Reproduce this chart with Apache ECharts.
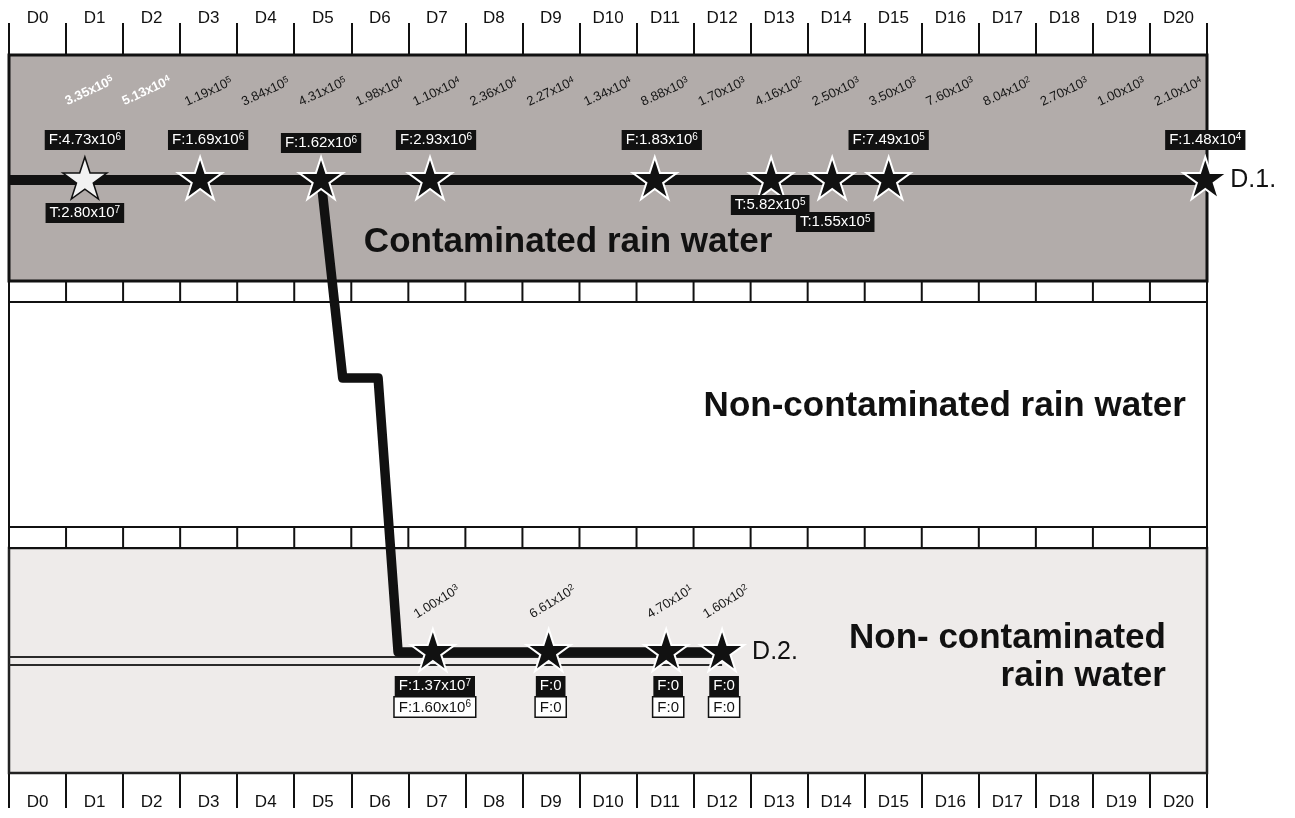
<!DOCTYPE html>
<html><head><meta charset="utf-8">
<script src="https://cdn.jsdelivr.net/npm/echarts@6/dist/echarts.min.js"></script>
<style>html,body{margin:0;padding:0;background:#fff}#c{width:1295px;height:818px}</style>
</head><body><div id="c"></div>
<script>
// ---------------- data ----------------
const dayLabels = ['D0','D1','D2','D3','D4','D5','D6','D7','D8','D9','D10','D11','D12','D13','D14','D15','D16','D17','D18','D19','D20'];
// counts printed diagonally in the contaminated band, days D1..D20
const bandCountDays = [1,2,3,4,5,6,7,8,9,10,11,12,13,14,15,16,17,18,19,20];
const bandCounts = [3.35e5,5.13e4,1.19e5,3.84e5,4.31e5,1.98e4,1.10e4,2.36e4,2.27e4,1.34e4,8.88e3,1.70e3,4.16e2,2.50e3,3.50e3,7.60e3,8.04e2,2.70e3,1.00e3,2.10e4];
// D.1 sampling stars (day position) and their F / T values
const d1Days = [1.33,3.35,5.47,7.38,11.32,13.36,14.43,15.42,20.97];
const d1F = [4.73e6,1.69e6,1.62e6,2.93e6,1.83e6,null,null,7.49e5,1.48e4];
const d1T = [2.80e7,null,null,null,null,5.82e5,1.55e5,null,null];
// transfer path bends (day, level) between D.1 and D.2
const transferBends = [[5.85,323],[6.47,323],[6.82,597]];
// D.2 sampling stars
const d2Days = [7.43,9.46,11.52,12.5];
const d2Counts = [1.00e3,6.61e2,4.70e1,1.60e2];
const d2F1 = [1.37e7,0,0,0];
const d2F2 = [1.60e6,0,0,0];

// ---------------- layout / style ----------------
const FONT = '"Liberation Sans", Arial, Helvetica, sans-serif';
const L = {d1:125, d2:597, count:37, thinA:602, thinB:610, xMax:21, yMax:718};
const bands = [
  {y0:493, y1:718, fill:'#eeebea', stroke:'#222', lw:2.5, ticks:false},
  {y0:472, y1:493, fill:'#ffffff', stroke:'#111', lw:2, ticks:true},
  {y0:247, y1:472, fill:'#ffffff', stroke:'#111', lw:2, ticks:false},
  {y0:226, y1:247, fill:'#ffffff', stroke:'#111', lw:2, ticks:true},
  {y0:0,   y1:226, fill:'#b2acaa', stroke:'#111', lw:3, ticks:false}
];
const fOffsets = [[0,-40],[8,-40],[0,-37],[6,-40],[7,-40],null,null,[0,-40],[0,-40]];
const tOffsets = [[0,33],null,null,null,null,[-1,25],[3,42],null,null];
const whiteStarIdx = 0;
const whiteCountIdx = [0,1];
const STAR = 'path://M50 0 L61.23 34.55 L97.55 34.55 L68.17 55.9 L79.39 90.45 L50 69.1 L20.61 90.45 L31.83 55.9 L2.45 34.55 L38.77 34.55 Z';

function sciParts(v){
  if (!v) return null;
  const e = Math.floor(Math.log10(v) + 1e-9);
  return [(v / Math.pow(10, e)).toFixed(2) + 'x10', String(e)];
}
function richSci(prefix, v, k){
  const p = sciParts(v);
  return p ? '{' + k + '|' + prefix + p[0] + '}{' + k + 's|' + p[1] + '}' : '{' + k + '|' + prefix + '0}';
}
function mkRich(key, color, size, supSize, weight){
  const r = {};
  r[key] = {color:color, fontSize:size, lineHeight:size+1, fontFamily:FONT, fontWeight:weight||'normal'};
  r[key+'s'] = {color:color, fontSize:supSize, lineHeight:supSize, verticalAlign:'top', fontFamily:FONT, fontWeight:weight||'normal'};
  return r;
}
// screen offset -> offset in the rotated label frame
function rotOff(dx, dy, deg){
  const r = deg * Math.PI / 180, c = Math.cos(r), s = Math.sin(r);
  return [dx * c - dy * s, dx * s + dy * c];
}
const boxRich = Object.assign({}, mkRich('wt','#ffffff',15,10), mkRich('kt','#111111',15,10));
const countRich = Object.assign({}, mkRich('ct','#151515',13,9), mkRich('cw','#ffffff',13,9,'bold'));

function labelSeries(data, label, z){
  return {
    type:'scatter', symbolSize:1, silent:true, z:z||8, clip:false,
    itemStyle:{color:'rgba(0,0,0,0)', opacity:1},
    emphasis:{disabled:true},
    data:data,
    label:Object.assign({show:true, position:'inside', opacity:1, formatter:function(p){return p.data.t;}}, label)
  };
}

// F / T boxes on D.1
const fBoxes = [], tBoxes = [];
d1Days.forEach(function(d,i){
  if (d1F[i] != null) fBoxes.push({value:[d,L.d1], t:richSci('F:', d1F[i], 'wt'), label:{offset:fOffsets[i]}});
  if (d1T[i] != null) tBoxes.push({value:[d,L.d1], t:richSci('T:', d1T[i], 'wt'), label:{offset:tOffsets[i]}});
});
const blackBox = {backgroundColor:'#111', padding:[2,4,2,4], rich:boxRich};
const whiteBox = {backgroundColor:'#fff', borderColor:'#111', borderWidth:1.5, padding:[2,4,1,4], rich:boxRich};

const TOPROT = 25;
const countLabels = bandCountDays.map(function(d,i){
  const white = whiteCountIdx.indexOf(i) >= 0;
  return {value:[d+0.5, L.count], t:richSci('', bandCounts[i], white ? 'cw' : 'ct'),
          label:{offset: white ? rotOff(-5,-1,TOPROT) : [0,0]}};
});
const D2ROT = 32;
const d2CountLabels = d2Days.map(function(d,i){
  return {value:[d, L.d2], t:richSci('', d2Counts[i], 'ct'), label:{offset:rotOff(4,-50,D2ROT)}};
});
const d2Box1 = d2Days.map(function(d,i){ return {value:[d,L.d2], t:richSci('F:', d2F1[i], 'wt'), label:{offset:[2,34]}}; });
const d2Box2 = d2Days.map(function(d,i){ return {value:[d,L.d2], t:richSci('F:', d2F2[i], 'kt'), label:{offset:[2,55]}}; });

const transferPath = [[d1Days[2], L.d1]].concat(transferBends).concat([[d2Days[d2Days.length-1], L.d2]]);

const chart = echarts.init(document.getElementById('c'));
const catAxis = function(pos, tickLen, margin){
  return {
    type:'category', position:pos, data:dayLabels, boundaryGap:true,
    axisLine:{show:false},
    axisTick:{show:true, interval:0, length:tickLen, inside:false, lineStyle:{color:'#111', width:2}},
    axisLabel:{show:true, interval:0, margin:margin, fontSize:17, color:'#111', fontFamily:FONT},
    splitLine:{show:false}
  };
};
const starStyle = {color:'#111', borderColor:'#fff', borderWidth:2, opacity:1};
const option = {
  animation:false,
  backgroundColor:'#ffffff',
  grid:{left:9, right:88, top:55, bottom:45, containLabel:false, outerBoundsMode:'none'},
  xAxis:[
    {type:'value', min:0, max:L.xMax, show:false},
    catAxis('top', 32, 28),
    catAxis('bottom', 35, 21)
  ],
  yAxis:{type:'value', min:0, max:L.yMax, inverse:true, show:false},
  series:[
    {
      type:'custom', silent:true, z:1,
      data:bands.map(function(b){return [0,b.y0,L.xMax,b.y1];}),
      encode:{x:[0,2], y:[1,3]},
      renderItem:function(params, api){
        const b = bands[params.dataIndex];
        const p0 = api.coord([0,b.y0]), p1 = api.coord([L.xMax,b.y1]);
        const children = [{type:'rect', shape:{x:p0[0], y:p0[1], width:p1[0]-p0[0], height:p1[1]-p0[1]},
          style:{fill:b.fill, stroke:b.stroke, lineWidth:b.lw}}];
        if (b.ticks) {
          for (let d=1; d<L.xMax; d++) {
            const x = api.coord([d,0])[0];
            children.push({type:'line', shape:{x1:x, y1:p0[1], x2:x, y2:p1[1]}, style:{stroke:'#111', lineWidth:2}});
          }
        }
        return {type:'group', children:children};
      }
    },
    // thin double line in lower band
    {type:'line', z:2, silent:true, symbol:'none', data:[[0,L.thinA],[d2Days[d2Days.length-1],L.thinA]], lineStyle:{color:'#2a2a2a', width:2, opacity:1}},
    {type:'line', z:2, silent:true, symbol:'none', data:[[0,L.thinB],[d2Days[d2Days.length-1],L.thinB]], lineStyle:{color:'#2a2a2a', width:2, opacity:1}},
    // D.1 line
    {type:'line', z:3, silent:true, symbol:'none', data:[[0,L.d1],[d1Days[d1Days.length-1],L.d1]], lineStyle:{color:'#111', width:10, opacity:1}},
    // transfer + D.2 line
    {type:'line', z:3, silent:true, symbol:'none', data:transferPath, lineStyle:{color:'#111', width:9.5, join:'round', opacity:1}},
    // stars
    {type:'scatter', z:5, silent:true, symbol:STAR, symbolSize:[44,42], symbolOffset:[0,-2],
      itemStyle:starStyle, emphasis:{disabled:true},
      data:d1Days.map(function(d,i){
        return i===whiteStarIdx ? {value:[d,L.d1], itemStyle:{color:'#f2f2f2', borderColor:'#111', borderWidth:1.5, opacity:1}} : {value:[d,L.d1]};
      })},
    {type:'scatter', z:5, silent:true, symbol:STAR, symbolSize:[44,42], symbolOffset:[0,-2],
      itemStyle:starStyle, emphasis:{disabled:true},
      data:d2Days.map(function(d){return [d,L.d2];})},
    // labels
    labelSeries(fBoxes, blackBox),
    labelSeries(tBoxes, blackBox),
    labelSeries(countLabels, {rotate:TOPROT, rich:countRich}),
    labelSeries(d2CountLabels, {rotate:D2ROT, rich:countRich}),
    labelSeries(d2Box1, blackBox),
    labelSeries(d2Box2, whiteBox),
    // zone / line names
    labelSeries([{value:[9.8,187], t:'Contaminated rain water'}],
      {fontSize:35, fontWeight:'bold', color:'#111', fontFamily:FONT}),
    labelSeries([{value:[20.63,351], t:'Non-contaminated rain water'}],
      {fontSize:35, fontWeight:'bold', color:'#111', fontFamily:FONT, align:'right'}),
    labelSeries([{value:[20.28,602], t:'Non- contaminated\nrain water'}],
      {fontSize:35, fontWeight:'bold', color:'#111', fontFamily:FONT, align:'right', lineHeight:38}),
    labelSeries([{value:[d1Days[d1Days.length-1],L.d1], t:'D.1.'}],
      {fontSize:25, color:'#111', fontFamily:FONT, align:'left', offset:[25,0]}),
    labelSeries([{value:[d2Days[d2Days.length-1],L.d2], t:'D.2.'}],
      {fontSize:25, color:'#111', fontFamily:FONT, align:'left', offset:[30,0]})
  ]
};
chart.setOption(option);
</script>
</body></html>
